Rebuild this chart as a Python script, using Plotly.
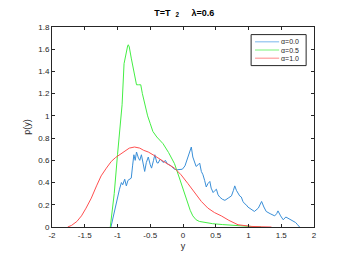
import plotly.graph_objects as go

# alpha = 0.0 (blue, noisy)
x_a0 = [-1.10, -1.07, -1.04, -1.00, -0.97, -0.94, -0.92, -0.89, -0.865, -0.84, -0.81, -0.79, -0.77, -0.75, -0.73, -0.71,
        -0.68, -0.66, -0.635, -0.61, -0.585, -0.56, -0.53, -0.50, -0.48, -0.45, -0.43, -0.40, -0.38, -0.35, -0.33,
        -0.30, -0.27, -0.24, -0.21, -0.18, -0.15, -0.13, -0.09, -0.05, -0.01, 0.03, 0.076, 0.10, 0.127, 0.15, 0.17,
        0.20, 0.23, 0.255, 0.28, 0.305, 0.33, 0.355, 0.38, 0.41, 0.43, 0.46, 0.49, 0.51, 0.535, 0.56, 0.60, 0.64,
        0.69, 0.74, 0.77, 0.79, 0.815, 0.84, 0.865, 0.89, 0.915, 0.94, 0.965, 0.99, 1.04, 1.09, 1.15, 1.20, 1.235,
        1.27, 1.33, 1.40, 1.43, 1.45, 1.49, 1.53, 1.57, 1.60, 1.64, 1.68, 1.72, 1.75, 1.78]
p_a0 = [0.00, 0.08, 0.17, 0.26, 0.34, 0.40, 0.38, 0.43, 0.37, 0.42, 0.43, 0.44, 0.55, 0.65, 0.60, 0.675,
        0.62, 0.60, 0.65, 0.56, 0.50, 0.58, 0.63, 0.56, 0.53, 0.60, 0.65, 0.58, 0.575, 0.61, 0.60,
        0.58, 0.60, 0.57, 0.56, 0.55, 0.53, 0.52, 0.515, 0.515, 0.52, 0.55, 0.63, 0.67, 0.72, 0.63, 0.59,
        0.545, 0.56, 0.575, 0.50, 0.47, 0.42, 0.36, 0.39, 0.41, 0.35, 0.31, 0.33, 0.34, 0.29, 0.27, 0.25, 0.24,
        0.26, 0.28, 0.33, 0.37, 0.33, 0.30, 0.28, 0.27, 0.23, 0.21, 0.20, 0.18, 0.16, 0.14, 0.17, 0.23, 0.18,
        0.14, 0.12, 0.10, 0.12, 0.145, 0.10, 0.065, 0.09, 0.08, 0.06, 0.05, 0.04, 0.02, 0.00]

# alpha = 0.5 (green)
x_a5 = [-1.11, -1.05, -1.00, -0.96, -0.93, -0.90, -0.87, -0.845, -0.835, -0.82, -0.79, -0.76, -0.73, -0.71, -0.68,
        -0.645, -0.62, -0.585, -0.54, -0.50, -0.46, -0.40, -0.305, -0.22, -0.13, -0.06, 0.00, 0.04, 0.076, 0.11,
        0.15, 0.20, 0.25, 0.33, 0.45, 0.60, 0.75, 0.90, 1.00, 1.10, 1.20]
p_a5 = [0.00, 0.30, 0.65, 0.90, 1.10, 1.47, 1.58, 1.63, 1.64, 1.62, 1.52, 1.42, 1.34, 1.28, 1.28,
        1.28, 1.20, 1.10, 1.00, 0.93, 0.86, 0.81, 0.75, 0.67, 0.57, 0.45, 0.34, 0.28, 0.21, 0.15,
        0.10, 0.065, 0.05, 0.04, 0.03, 0.022, 0.014, 0.008, 0.004, 0.002, 0.00]

# alpha = 1.0 (red, smooth)
x_a10 = [-1.76, -1.70, -1.62, -1.55, -1.48, -1.40, -1.32, -1.25, -1.17, -1.095, -1.03, -0.97, -0.90, -0.82,
         -0.74, -0.66, -0.60, -0.53, -0.43, -0.33, -0.23, -0.13, -0.03, 0.076, 0.18, 0.28, 0.38, 0.48, 0.585,
         0.70, 0.84, 0.95, 1.05, 1.20, 1.35]
p_a10 = [0.00, 0.015, 0.05, 0.10, 0.17, 0.26, 0.37, 0.46, 0.53, 0.59, 0.625, 0.65, 0.68, 0.71,
         0.72, 0.71, 0.69, 0.675, 0.64, 0.60, 0.565, 0.53, 0.47, 0.39, 0.31, 0.23, 0.17, 0.13, 0.10,
         0.06, 0.02, 0.01, 0.005, 0.002, 0.00]

legend_names = ["α=0.0", "α=0.5", "α=1.0"]
colors = ["#3a8fd8", "#44ee44", "#ff4f4f"]
legend_colors = ["#8ec2ef", "#8ef58e", "#ff9a9a"]
x_ticks = [-2, -1.5, -1, -0.5, 0, 0.5, 1, 1.5, 2]
y_ticks = [0, 0.2, 0.4, 0.6, 0.8, 1.0, 1.2, 1.4, 1.6, 1.8]

fig = go.Figure()
for xs, ys, name, c in zip([x_a0, x_a5, x_a10], [p_a0, p_a5, p_a10], legend_names, colors):
    fig.add_trace(go.Scatter(x=xs, y=ys, mode="lines", name=name, showlegend=False,
                             line=dict(color=c, width=1)))

# compact MATLAB-style legend box (drawn in axis-fraction coordinates)
lx0, lx1, ly0, ly1 = 0.760, 0.970, 0.807, 0.962
row_y = [0.926, 0.885, 0.844]
fig.add_shape(type="rect", xref="x domain", yref="y domain", x0=lx0, x1=lx1, y0=ly0, y1=ly1,
              line=dict(color="#262626", width=1), fillcolor="white", layer="above")
for ry, name, c in zip(row_y, legend_names, legend_colors):
    fig.add_shape(type="line", xref="x domain", yref="y domain", x0=0.775, x1=0.867, y0=ry, y1=ry,
                  line=dict(color=c, width=1.2), layer="above")
    fig.add_annotation(xref="x domain", yref="y domain", x=0.870, y=ry, text=name, showarrow=False,
                       xanchor="left", yanchor="middle", font=dict(size=7, color="#262626"),
                       borderpad=0)

axis_common = dict(showgrid=False, zeroline=False, showline=True, linecolor="#262626", linewidth=1,
                   mirror="ticks", ticks="inside", ticklen=3, tickcolor="#262626",
                   tickfont=dict(size=8, color="#262626"))
fig.update_xaxes(range=[-2, 2], tickvals=x_ticks, ticktext=[f"{v:g}" for v in x_ticks],
                 title=dict(text="y", font=dict(size=9, color="#262626"), standoff=4), **axis_common)
fig.update_yaxes(range=[0, 1.8], tickvals=y_ticks, ticktext=[f"{v:g}" for v in y_ticks],
                 title=dict(text="p(y)", font=dict(size=9, color="#262626"), standoff=6), **axis_common)

fig.update_layout(
    width=339, height=254,
    margin=dict(l=44, r=33, t=19, b=28),
    paper_bgcolor="white", plot_bgcolor="white",
    font=dict(family="Liberation Sans, Arial, sans-serif", size=8, color="#262626"),
    title=dict(text="<b>T=T  <sub>2</sub>     λ=0.6</b>", x=0.52, xanchor="center", y=0.995, yanchor="top",
               font=dict(size=9, color="black")),
    showlegend=False,
)

fig.write_html("out.html")
